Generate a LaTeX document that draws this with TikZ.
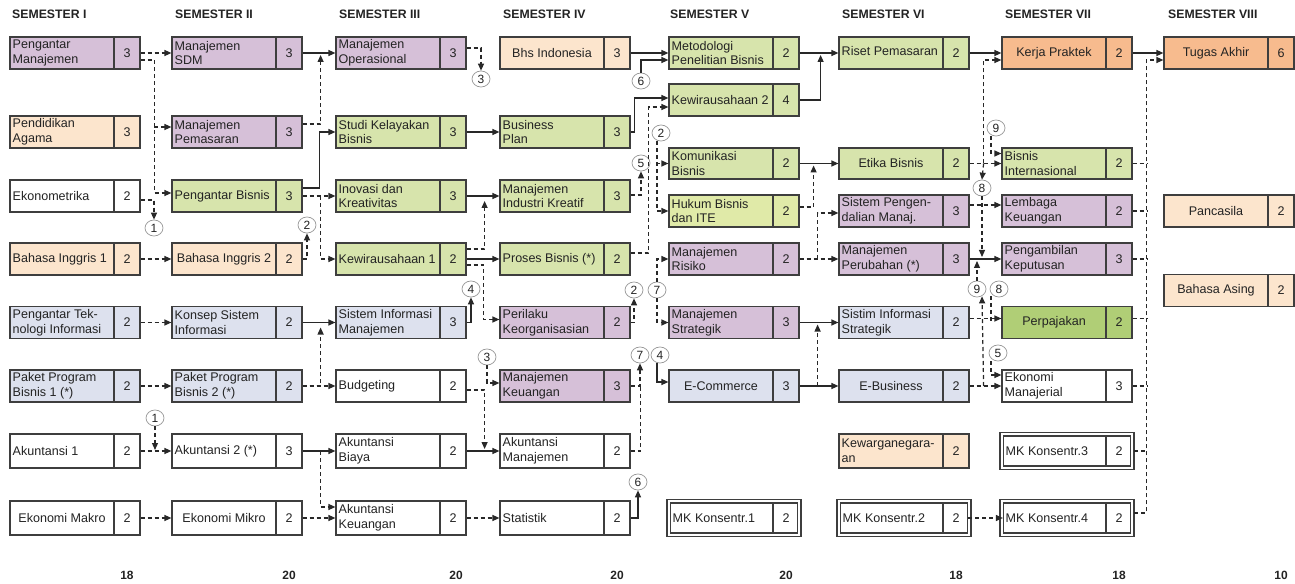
\documentclass[tikz,border=0pt]{standalone}
\usepackage{fontspec}
\setmainfont{Liberation Sans}
\usetikzlibrary{arrows.meta,calc,shapes.geometric}
\definecolor{pur}{RGB}{214,192,216}
\definecolor{pch}{RGB}{252,229,205}
\definecolor{grn}{RGB}{215,228,172}
\definecolor{ygr}{RGB}{224,234,168}
\definecolor{blu}{RGB}{221,225,238}
\definecolor{org}{RGB}{247,187,142}
\definecolor{dgr}{RGB}{176,206,118}
\definecolor{bordc}{RGB}{62,62,62}
\definecolor{linec}{RGB}{40,40,40}
\definecolor{txtc}{RGB}{35,35,35}
\definecolor{circc}{RGB}{150,150,150}
\tikzset{
 crsbox/.style={draw=bordc, line width=1.2bp, minimum width=130bp, inner sep=0pt},
 divline/.style={draw=bordc, line width=1.2bp},
 ctxt/.style={font=\fontsize{12.6}{14.6}\selectfont, inner sep=0pt, text=txtc},
 L/.style={anchor=west, xshift=2.5bp, align=left},
 C/.style={xshift=52bp, align=center},
 R/.style={anchor=west, xshift=2.5bp, yshift=2bp, align=left},
 sol/.style={draw=linec, line width=1.2bp},
 dsh/.style={draw=linec, line width=1.2bp, dash pattern=on 4bp off 3bp},
 arr/.style={-{Triangle[length=7bp,width=6bp]}},
 circ/.style={ellipse, draw=circc, line width=0.7bp, minimum width=18bp, minimum height=16bp, inner sep=0pt, fill=white, font=\fontsize{12}{12}\selectfont, text=txtc},
 hdr/.style={font=\bfseries\fontsize{12.3}{14}\selectfont, text=txtc, anchor=west, inner sep=0pt},
 tot/.style={font=\bfseries\fontsize{12}{14}\selectfont, text=txtc, inner sep=0pt},
}
\newcommand\crs[8]{%
 \node[crsbox, fill=#4, minimum height=#8bp] (#1) at ({#2+65},#3) {};
 \draw[divline] ({#2+104},{#3-#8/2}) -- ({#2+104},{#3+#8/2});
 \node[ctxt] at ({#2+117},#3) {#6};
 \node[ctxt,#7] at (#2,#3) {#5};
}
\newcommand\mkc[5]{%
 \node[crsbox, fill=white, minimum width=127bp, minimum height=30bp] (#1) at ({#2+65},#3) {};
 \draw[divline] ({#2+104},{#3-15}) -- ({#2+104},{#3+15});
 \draw[divline, line width=1.4bp] ($(#1.north west)+(-3,-3)$) rectangle ($(#1.south east)+(3,3)$);
 \node[ctxt] at ({#2+117},#3) {#5};
 \node[ctxt,L] at ({#2+1},#3) {#4};
}
\begin{document}
\begin{tikzpicture}[x=1bp,y=-1bp]
\useasboundingbox (0,0) rectangle (1295,584);
\fill[white] (0,0) rectangle (1295,584);
% headers
\node[hdr] (h1) at (12,14) {SEMESTER I};
\node[hdr] (h2) at (175,14) {SEMESTER II};
\node[hdr] (h3) at (339,14) {SEMESTER III};
\node[hdr] (h4) at (503,14) {SEMESTER IV};
\node[hdr] (h5) at (670,14) {SEMESTER V};
\node[hdr] (h6) at (842,14) {SEMESTER VI};
\node[hdr] (h7) at (1005,14) {SEMESTER VII};
\node[hdr] (h8) at (1168,14) {SEMESTER VIII};
% totals
\node[tot] (t1) at (127,575) {18};
\node[tot] (t2) at (289,575) {20};
\node[tot] (t3) at (456,575) {20};
\node[tot] (t4) at (617,575) {20};
\node[tot] (t5) at (786,575) {20};
\node[tot] (t6) at (956,575) {18};
\node[tot] (t7) at (1119,575) {18};
\node[tot] (t8) at (1281,575) {10};
% column I
\crs{pm}{10}{53}{pur}{Pengantar\\Manajemen}{3}{L}{32}
\crs{pa}{10}{132}{pch}{Pendidikan\\Agama}{3}{L}{32}
\crs{ek}{10}{196}{white}{Ekonometrika}{2}{L}{32}
\crs{bi1}{10}{259}{pch}{Bahasa Inggris 1}{2}{L}{32}
\crs{pti}{10}{322.5}{blu}{Pengantar Tek-\\nologi Informasi}{2}{L}{32}
\crs{pp1}{10}{386}{blu}{Paket Program\\Bisnis 1 (*)}{2}{L}{32}
\crs{ak1}{10}{451}{white}{Akuntansi 1}{2}{L}{34}
\crs{emak}{10}{518}{white}{Ekonomi Makro}{2}{C}{34}
% column II
\crs{sdm}{172}{53}{pur}{Manajemen\\SDM}{3}{L}{32}
\crs{mpem}{172}{132}{pur}{Manajemen\\Pemasaran}{3}{L}{32}
\crs{pb}{172}{196}{grn}{Pengantar Bisnis}{3}{L}{32}
\crs{bi2}{172}{259}{pch}{Bahasa Inggris 2}{2}{C}{32}
\crs{ksi}{172}{322.5}{blu}{Konsep Sistem\\Informasi}{2}{L}{32}
\crs{pp2}{172}{386}{blu}{Paket Program\\Bisnis 2 (*)}{2}{L}{32}
\crs{ak2}{172}{451}{white}{Akuntansi 2 (*)}{3}{L}{34}
\crs{emik}{172}{518}{white}{Ekonomi Mikro}{2}{C}{34}
% column III
\crs{mo}{336}{53}{pur}{Manajemen\\Operasional}{3}{L}{32}
\crs{skb}{336}{132}{grn}{Studi Kelayakan\\Bisnis}{3}{L}{32}
\crs{ik}{336}{196}{grn}{Inovasi dan\\Kreativitas}{3}{L}{32}
\crs{kw1}{336}{259}{grn}{Kewirausahaan 1}{2}{L}{32}
\crs{sim}{336}{322.5}{blu}{Sistem Informasi\\Manajemen}{3}{L}{32}
\crs{bud}{336}{386}{white}{Budgeting}{2}{L}{32}
\crs{abi}{336}{451}{white}{Akuntansi\\Biaya}{2}{L}{34}
\crs{akeu}{336}{518}{white}{Akuntansi\\Keuangan}{2}{L}{34}
% column IV
\crs{bind}{500}{53}{pch}{Bhs Indonesia}{3}{C}{32}
\crs{bp}{500}{132}{grn}{Business\\Plan}{3}{L}{32}
\crs{mik}{500}{196}{grn}{Manajemen\\Industri Kreatif}{3}{L}{32}
\crs{pbs}{500}{259}{grn}{Proses Bisnis (*)}{2}{L}{32}
\crs{pk}{500}{322.5}{pur}{Perilaku\\Keorganisasian}{2}{L}{32}
\crs{mkeu}{500}{386}{pur}{Manajemen\\Keuangan}{3}{L}{32}
\crs{aman}{500}{451}{white}{Akuntansi\\Manajemen}{2}{L}{34}
\crs{stat}{500}{518}{white}{Statistik}{2}{L}{34}
% column V
\crs{mpb}{669}{53}{grn}{Metodologi\\Penelitian Bisnis}{2}{L}{32}
\crs{kw2}{669}{100}{grn}{Kewirausahaan 2}{4}{L}{32}
\crs{kb}{669}{163.5}{grn}{Komunikasi\\Bisnis}{2}{L}{31}
\crs{hb}{669}{211}{ygr}{Hukum Bisnis\\dan ITE}{2}{L}{32}
\crs{mr}{669}{259}{pur}{Manajemen\\Risiko}{2}{L}{32}
\crs{ms}{669}{322.5}{pur}{Manajemen\\Strategik}{3}{L}{32}
\crs{ec}{669}{386}{blu}{E-Commerce}{3}{C}{32}
\mkc{mk1}{669}{518}{MK Konsentr.1}{2}
% column VI
\crs{rp}{839}{53}{grn}{Riset Pemasaran}{2}{R}{32}
\crs{eb}{839}{163.5}{grn}{Etika Bisnis}{2}{C}{31}
\crs{spm}{839}{211}{pur}{Sistem Pengen-\\dalian Manaj.}{3}{L}{32}
\crs{mper}{839}{259}{pur}{Manajemen\\Perubahan (*)}{3}{L}{32}
\crs{sis}{839}{322.5}{blu}{Sistim Informasi\\Strategik}{2}{L}{32}
\crs{ebus}{839}{386}{blu}{E-Business}{2}{C}{32}
\crs{kwn}{839}{451}{pch}{Kewarganegara-\\an}{2}{L}{34}
\mkc{mk2}{839}{518}{MK Konsentr.2}{2}
% column VII
\crs{kp}{1002}{53}{org}{Kerja Praktek}{2}{C}{32}
\crs{bint}{1002}{163.5}{grn}{Bisnis\\Internasional}{2}{L}{31}
\crs{lk}{1002}{211}{pur}{Lembaga\\Keuangan}{2}{L}{32}
\crs{pkep}{1002}{259}{pur}{Pengambilan\\Keputusan}{3}{L}{32}
\crs{pjk}{1002}{322.5}{dgr}{Perpajakan}{2}{C}{32}
\crs{emj}{1002}{386}{white}{Ekonomi\\Manajerial}{3}{L}{32}
\mkc{mk3}{1002}{451}{MK Konsentr.3}{2}
\mkc{mk4}{1002}{518}{MK Konsentr.4}{2}
% column VIII
\crs{ta}{1164}{53}{org}{Tugas Akhir}{6}{C}{32}
\crs{pcs}{1164}{211}{pch}{Pancasila}{2}{C}{32}
\crs{bas}{1164}{290.5}{pch}{Bahasa Asing}{2}{C}{32}
% connector circles
\node[circ] (c1a) at (154,228) {1};
\node[circ] (c1b) at (155,418) {1};
\node[circ] (c2a) at (307,225) {2};
\node[circ] (c3a) at (481,79) {3};
\node[circ] (c4a) at (471,289) {4};
\node[circ] (c3b) at (487,357) {3};
\node[circ] (c6a) at (641,81) {6};
\node[circ] (c2b) at (634,290) {2};
\node[circ] (c2c) at (661,133) {2};
\node[circ] (c5a) at (641,163) {5};
\node[circ] (c7a) at (640,355) {7};
\node[circ] (c7b) at (657,290) {7};
\node[circ] (c4b) at (660,355) {4};
\node[circ] (c6b) at (638,482) {6};
\node[circ] (c8a) at (982,188) {8};
\node[circ] (c9a) at (996,128) {9};
\node[circ] (c9b) at (977,289) {9};
\node[circ] (c8b) at (999,289) {8};
\node[circ] (c5b) at (998,353) {5};
\coordinate (tacol) at (1148,0);
% I -> II
\draw[dsh,arr] (pm.east) -- (sdm.west);
\draw[dsh,arr] ($(pm.east)+(0,7)$) -| ($(pb.west)+(-17,-3)$) -- ($(pb.west)+(0,-3)$);
\draw[dsh,arr] ($(mpem.west)+(-17,-5)$) -- ($(mpem.west)+(0,-5)$);
\draw[dsh,arr] ($(ek.east)+(0,4)$) -| (c1a.north);
\draw[dsh,arr] (bi1.east) -- (bi2.west);
\draw[dsh,arr] (pti.east) -- (ksi.west);
\draw[dsh,arr] (pp1.east) -- (pp2.west);
\draw[dsh,arr] (ak1.east) -- (ak2.west);
\draw[dsh,arr] (c1b.south) -- ($(c1b.south |- ak1.east)+(0,-1)$);
\draw[dsh,arr] (emak.east) -- (emik.west);
% II -> III
\draw[sol,arr] (sdm.east) -- (mo.west);
\draw[dsh,arr] ($(mpem.east)+(0,-8)$) -| ($(sdm.east)+(18,2)$);
\draw[sol,arr] ($(pb.east)+(0,-8)$) -| ($(skb.west)+(-16,0)$) -- (skb.west);
\draw[dsh,arr] (pb.east) -- (ik.west);
\draw[dsh,arr] ($(pb.east)+(18,0)$) |- (kw1.west);
\draw[dsh,arr] (bi2.east) -| (c2a.south);
\draw[sol,arr] (ksi.east) -- (sim.west);
\draw[dsh,arr] (pp2.east) -| ($(ksi.east)+(18,5)$);
\draw[dsh,arr] (pp2.east) -- (bud.west);
\draw[sol,arr] (ak2.east) -- (abi.west);
\draw[dsh,arr] ($(ak2.east)+(18,0)$) |- ($(akeu.west)+(0,-11)$);
\draw[dsh,arr] (emik.east) -- (akeu.west);
% III -> IV
\draw[dsh,arr] ($(mo.east)+(0,-5)$) -| (c3a.north);
\draw[sol,arr] (skb.east) -- (bp.west);
\draw[sol,arr] (ik.east) -- (mik.west);
\draw[dsh,arr] ($(kw1.east)+(0,-10)$) -| ($(ik.east)+(18,5)$);
\draw[sol,arr] (kw1.east) -- (pbs.west);
\draw[dsh,arr] ($(kw1.east)+(0,6)$) -| ($(pk.west)+(-16,-3)$) -- ($(pk.west)+(0,-3)$);
\draw[sol,arr] (sim.east) -| (c4a.south);
\draw[dsh,arr] (c3b.south) |- ($(mkeu.west)+(0,-3)$);
\draw[dsh,arr] ($(bud.east)+(0,4)$) -| ($(abi.east)+(18,-2)$);
\draw[sol,arr] (abi.east) -- (aman.west);
\draw[dsh,arr] (akeu.east) -- (stat.west);
% IV -> V
\draw[sol,arr] (bind.east) -- (mpb.west);
\draw[sol,arr] (c6a.north) |- ($(mpb.west)+(0,7)$);
\draw[sol,arr] (bp.east) -| ($(kw2.west)+(-34,-2)$) -- ($(kw2.west)+(0,-2)$);
\draw[dsh,arr] ($(pbs.east)+(0,-6)$) -| ($(kw2.west)+(-20,7)$) -- ($(kw2.west)+(0,7)$);
\draw[dsh,arr] ($(mik.east)+(0,-1)$) -| (c5a.south);
\draw[dsh,arr] ($(c2c.south)+(-4,0)$) |- (kb.west);
\draw[dsh,arr] ($(c2c.south)+(-4,0)$) |- (hb.west);
\draw[dsh,arr] (pk.east) -| (c2b.south);
\draw[dsh,arr] (mkeu.east) -| (c7a.south);
\draw[dsh] (aman.east) -| ($(mkeu.east)+(10,0)$);
\draw[dsh,arr] (c7b.north) |- (mr.west);
\draw[dsh,arr] (c7b.south) |- (ms.west);
\draw[sol,arr] ($(c4b.south)+(-3,0)$) |- ($(ec.west)+(0,-4)$);
\draw[sol,arr] (stat.east) -| (c6b.south);
% V -> VI
\draw[sol,arr] (mpb.east) -- (rp.west);
\draw[sol,arr] (kw2.east) -| ($(mpb.east)+(21,2)$);
\draw[sol,arr] (kb.east) -- (eb.west);
\draw[dsh,arr] ($(hb.east)+(0,-4)$) -| ($(kb.east)+(14,2)$);
\draw[dsh,arr] (mr.east) -- (mper.west);
\draw[dsh,arr] ($(mr.east)+(18,0)$) |- ($(spm.west)+(0,2)$);
\draw[sol,arr] (ms.east) -- (sis.west);
\draw[sol,arr] (ec.east) -- (ebus.west);
\draw[dsh,arr] ($(ec.east)+(18,0)$) -- ($(ms.east)+(18,2)$);
% VI -> VII
\draw[sol,arr] (rp.east) -- (kp.west);
\draw[dsh,arr] (eb.east) -- (bint.west);
\draw[dsh,arr] ($(eb.east)+(14,0)$) |- ($(kp.west)+(0,7)$);
\draw[dsh,arr] ($(eb.east)+(14,0)$) -- (c8a.north);
\draw[dsh,arr] (c8a.south) -- ($(c8a.south |- pkep.west)+(0,-2)$);
\draw[dsh,arr] ($(c9a.south)+(-5,0)$) |- ($(bint.west)+(0,-10)$);
\draw[dsh,arr] ($(spm.east)+(0,-6)$) -- ($(lk.west)+(0,-6)$);
\draw[sol,arr] (mper.east) -- (pkep.west);
\draw[dsh,arr] (c9b.north) -- ($(c9b.north |- pkep.west)+(0,2)$);
\draw[dsh,arr] ($(ebus.east)+(14,0)$) -- ($(c9b.south)+(5,-1)$);
\draw[dsh,arr] ($(sis.east)+(0,-4)$) -- ($(pjk.west)+(0,-4)$);
\draw[dsh] ($(c8b.south)+(-8,-1)$) -- ($(c8b.south)+(-8,25)$);
\draw[dsh,arr] (ebus.east) -- (emj.west);
\draw[dsh,arr] ($(c5b.south)+(-7,0)$) |- ($(emj.west)+(0,-11)$);
\draw[dsh,arr] (mk2.east) -- (mk4.west);
% VII -> VIII
\draw[sol,arr] (kp.east) -- (ta.west);
\draw[dsh,arr] ($(mk4.east)+(3,-5)$) -| ($(ta.west)+(-17,7)$) -- ($(ta.west)+(0,7)$);
\draw[dsh] (bint.east) -- (bint.east -| tacol);
\draw[dsh] (lk.east) -- (lk.east -| tacol);
\draw[dsh] (pkep.east) -- (pkep.east -| tacol);
\draw[dsh] ($(pjk.east)+(0,-4)$) -- ($(pjk.east -| tacol)+(0,-4)$);
\draw[dsh] (emj.east) -- (emj.east -| tacol);
\draw[dsh] ($(mk3.east)+(3,0)$) -- (mk3.east -| tacol);
\end{tikzpicture}
\end{document}
